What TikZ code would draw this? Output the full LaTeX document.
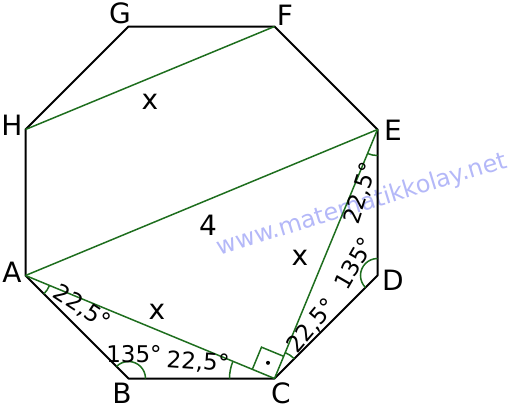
\documentclass[tikz,border=0pt]{standalone}
\usepackage{fontspec}
\setmainfont{DejaVu Sans}
\usepackage{tikz}
\usetikzlibrary{angles, calc}
\definecolor{diaggreen}{RGB}{30,110,30}
\definecolor{markblue}{RGB}{180,184,248}

\begin{document}
\begin{tikzpicture}[
    x=0.5pt, y=-0.5pt,
    edge/.style={draw=black, line width=1pt, line join=round},
    diag/.style={draw=diaggreen, line width=0.75pt},
    vlabel/.style={font=\fontsize{14}{16}\selectfont, inner sep=0pt},
    seglabel/.style={font=\fontsize{14}{16}\selectfont, inner sep=0pt},
    anglabel/.style={font=\fontsize{11.5}{13}\selectfont, inner sep=0pt},
    arcmark/.style={draw=diaggreen, line width=0.75pt}
]
\useasboundingbox (0,0) rectangle (520,408);

% Watermark
\node[font=\fontsize{12}{14}\selectfont, text=markblue, rotate=17] (mark) at (362,205) {www.matematikkolay.net};

% Octagon corners
\coordinate (A) at (25.5,275.5);
\coordinate (B) at (128.5,378.5);
\coordinate (C) at (274.5,378.5);
\coordinate (D) at (377.5,275.5);
\coordinate (E) at (377.5,129.5);
\coordinate (F) at (274.5,26.5);
\coordinate (G) at (128.5,26.5);
\coordinate (H) at (25.5,129.5);

% Octagon
\draw[edge] (A) -- (B) -- (C) -- (D) -- (E) -- (F) -- (G) -- (H) -- cycle;

% Diagonals
\draw[diag] (H) -- (F);
\draw[diag] (A) -- (E);
\draw[diag] (A) -- (C);
\draw[diag] (C) -- (E);

% Angle marks
\pic[arcmark, angle radius=13pt] {angle=B--A--C};
\pic[arcmark, angle radius=8.5pt] {angle=C--B--A};
\pic[arcmark, angle radius=22.5pt] {angle=A--C--B};
\pic[arcmark, angle radius=14pt] {angle=D--C--E};
\pic[arcmark, angle radius=8.5pt] {angle=E--D--C};
\pic[arcmark, angle radius=13pt] {angle=C--E--D};

% Right angle at C
\coordinate (ca) at ($(C)!12pt!(A)$);
\coordinate (ce) at ($(C)!12pt!(E)$);
\draw[diag] (ca) -- ($(ca)+(ce)-(C)$) -- (ce);
\fill ($(C)!0.5!($(ca)+(ce)-(C)$)$) circle (1pt);

% Corner labels
\node[vlabel] (labA) at (12,272) {A};
\node[vlabel] (labB) at (122,393) {B};
\node[vlabel] (labC) at (281,393) {C};
\node[vlabel] (labD) at (393,280) {D};
\node[vlabel] (labE) at (393,130) {E};
\node[vlabel] (labF) at (285,15) {F};
\node[vlabel] (labG) at (120,13) {G};
\node[vlabel] (labH) at (12,125) {H};

% Lengths
\node[seglabel] (hf) at (150,102) {x};
\node[seglabel] (ae) at (208,225) {4};
\node[seglabel] (ce) at (300,258) {x};
\node[seglabel] (ac) at (157,312) {x};

% Angle values
\node[anglabel, rotate=-33] (angA) at (82,308) {22,5°};
\node[anglabel] (angB) at (134,354) {135°};
\node[anglabel, rotate=-4] (angCB) at (198,362) {22,5°};
\node[anglabel, rotate=50] (angCD) at (312,326) {22,5°};
\node[anglabel, rotate=60] (angD) at (354,263) {135°};
\node[anglabel, rotate=72] (angE) at (361,193) {22,5°};

\end{tikzpicture}
\end{document}
